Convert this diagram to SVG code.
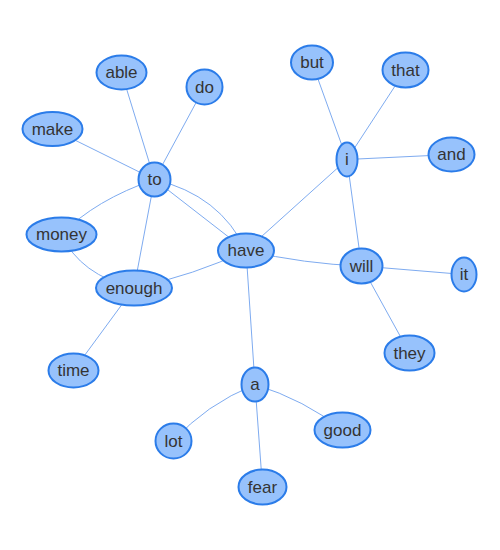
<svg xmlns="http://www.w3.org/2000/svg" width="500" height="550" viewBox="0 0 500 550">
<style>
.e{fill:none;stroke:#7eabf0;stroke-width:1}
.n ellipse{fill:#97c2fc;stroke:#2b7ce9;stroke-width:2}
.n text{font-family:"Liberation Sans",Arial,sans-serif;font-size:17px;fill:#343434;text-anchor:middle;dominant-baseline:central}
</style>
<rect width="500" height="550" fill="#ffffff"/>
<g id="edges">
<line class="e" x1="154.5" y1="179.5" x2="121.5" y2="72.5"/>
<line class="e" x1="154.5" y1="179.5" x2="204.5" y2="87"/>
<line class="e" x1="154.5" y1="179.5" x2="52.5" y2="129"/>
<path class="e" d="M154.5,179.5 Q95,200 61.5,234.5"/>
<line class="e" x1="154.5" y1="179.5" x2="134" y2="288"/>
<line class="e" x1="154.5" y1="179.5" x2="246" y2="250.5"/>
<path class="e" d="M154.5,179.5 Q220,195 246,250.5"/>
<path class="e" d="M61.5,234.5 Q80,275 134,288"/>
<path class="e" d="M134,288 Q195,275 246,250.5"/>
<line class="e" x1="134" y1="288" x2="73.5" y2="370.5"/>
<line class="e" x1="246" y1="250.5" x2="347" y2="159.5"/>
<path class="e" d="M246,250.5 Q305,264 361.5,266"/>
<line class="e" x1="246" y1="250.5" x2="255" y2="384.5"/>
<line class="e" x1="347" y1="159.5" x2="312" y2="62.5"/>
<line class="e" x1="347" y1="159.5" x2="405.5" y2="70"/>
<line class="e" x1="347" y1="159.5" x2="451.5" y2="154.5"/>
<line class="e" x1="347" y1="159.5" x2="361.5" y2="266"/>
<line class="e" x1="361.5" y1="266" x2="464" y2="274.5"/>
<line class="e" x1="361.5" y1="266" x2="409.5" y2="353"/>
<path class="e" d="M255,384.5 Q205,405 173.5,441"/>
<line class="e" x1="255" y1="384.5" x2="262.5" y2="487"/>
<path class="e" d="M255,384.5 Q305,400 342.5,430"/>
</g>
<g id="node-able" class="n"><ellipse cx="121.5" cy="72.5" rx="25" ry="17"/><text x="121.5" y="72.5">able</text></g>
<g id="node-do" class="n"><ellipse cx="204.5" cy="87" rx="18" ry="17.5"/><text x="204.5" y="87">do</text></g>
<g id="node-make" class="n"><ellipse cx="52.5" cy="129" rx="30" ry="17"/><text x="52.5" y="129">make</text></g>
<g id="node-to" class="n"><ellipse cx="154.5" cy="179.5" rx="16" ry="17"/><text x="154.5" y="179.5">to</text></g>
<g id="node-but" class="n"><ellipse cx="312" cy="62.5" rx="21" ry="17"/><text x="312" y="62.5">but</text></g>
<g id="node-that" class="n"><ellipse cx="405.5" cy="70" rx="23" ry="17.5"/><text x="405.5" y="70">that</text></g>
<g id="node-and" class="n"><ellipse cx="451.5" cy="154.5" rx="23" ry="17"/><text x="451.5" y="154.5">and</text></g>
<g id="node-i" class="n"><ellipse cx="347" cy="159.5" rx="10.5" ry="17"/><text x="347" y="159.5">i</text></g>
<g id="node-money" class="n"><ellipse cx="61.5" cy="234.5" rx="35" ry="17"/><text x="61.5" y="234.5">money</text></g>
<g id="node-enough" class="n"><ellipse cx="134" cy="288" rx="38" ry="17.5"/><text x="134" y="288">enough</text></g>
<g id="node-time" class="n"><ellipse cx="73.5" cy="370.5" rx="25" ry="17"/><text x="73.5" y="370.5">time</text></g>
<g id="node-have" class="n"><ellipse cx="246" cy="250.5" rx="28" ry="17"/><text x="246" y="250.5">have</text></g>
<g id="node-will" class="n"><ellipse cx="361.5" cy="266" rx="21" ry="17.5"/><text x="361.5" y="266">will</text></g>
<g id="node-it" class="n"><ellipse cx="464" cy="274.5" rx="12.5" ry="17"/><text x="464" y="274.5">it</text></g>
<g id="node-they" class="n"><ellipse cx="409.5" cy="353" rx="25" ry="17.5"/><text x="409.5" y="353">they</text></g>
<g id="node-a" class="n"><ellipse cx="255" cy="384.5" rx="13.5" ry="17"/><text x="255" y="384.5">a</text></g>
<g id="node-lot" class="n"><ellipse cx="173.5" cy="441" rx="18" ry="17.5"/><text x="173.5" y="441">lot</text></g>
<g id="node-good" class="n"><ellipse cx="342.5" cy="430" rx="28" ry="17.5"/><text x="342.5" y="430">good</text></g>
<g id="node-fear" class="n"><ellipse cx="262.5" cy="487" rx="24" ry="17.5"/><text x="262.5" y="487">fear</text></g>
</svg>
